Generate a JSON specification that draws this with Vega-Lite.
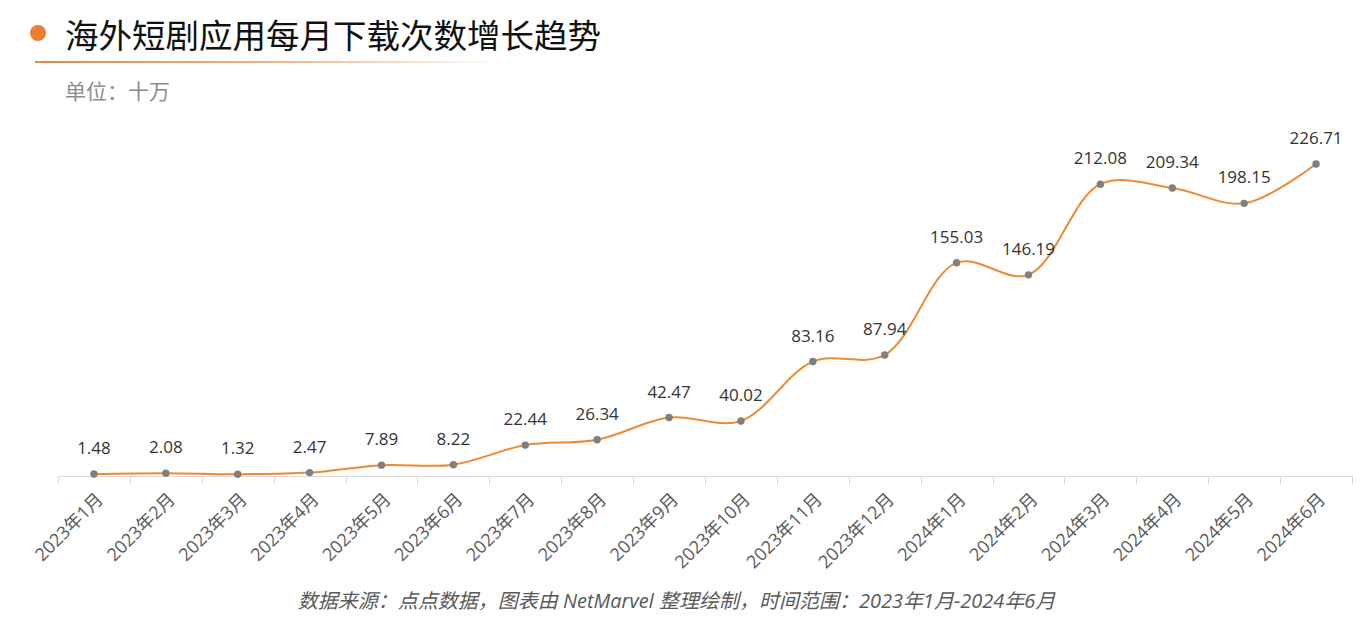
{
  "$schema": "https://vega.github.io/schema/vega-lite/v6.json",
  "autosize": "none",
  "width": 1294,
  "height": 344,
  "padding": {"left": 58, "top": 132, "right": 17, "bottom": 149},
  "background": "white",
  "config": {
    "view": {"stroke": null},
    "font": "Open Sans, Noto Sans CJK SC"
  },
  "title": {
    "text": "海外短剧应用每月下载次数增长趋势",
    "subtitle": "单位：十万",
    "anchor": "start",
    "frame": "group",
    "orient": "top",
    "dx": 7,
    "dy": 105,
    "offset": 26,
    "font": "Noto Sans CJK SC",
    "fontSize": 33.5,
    "fontWeight": "normal",
    "color": "#111111",
    "subtitleFont": "Noto Sans CJK SC",
    "subtitleFontSize": 21,
    "subtitleColor": "#8c8c8c",
    "subtitlePadding": 26
  },
  "data": {
    "values": [
      {"month": "2023年1月", "v": 1.48},
      {"month": "2023年2月", "v": 2.08},
      {"month": "2023年3月", "v": 1.32},
      {"month": "2023年4月", "v": 2.47},
      {"month": "2023年5月", "v": 7.89},
      {"month": "2023年6月", "v": 8.22},
      {"month": "2023年7月", "v": 22.44},
      {"month": "2023年8月", "v": 26.34},
      {"month": "2023年9月", "v": 42.47},
      {"month": "2023年10月", "v": 40.02},
      {"month": "2023年11月", "v": 83.16},
      {"month": "2023年12月", "v": 87.94},
      {"month": "2024年1月", "v": 155.03},
      {"month": "2024年2月", "v": 146.19},
      {"month": "2024年3月", "v": 212.08},
      {"month": "2024年4月", "v": 209.34},
      {"month": "2024年5月", "v": 198.15},
      {"month": "2024年6月", "v": 226.71}
    ]
  },
  "encoding": {
    "x": {
      "field": "month",
      "type": "nominal",
      "sort": null,
      "scale": {"paddingInner": 0, "paddingOuter": 0},
      "axis": {
        "title": "数据来源：点点数据，图表由 NetMarvel 整理绘制，时间范围：2023年1月-2024年6月",
        "titleFont": "Open Sans, Noto Sans CJK SC",
        "titleFontStyle": "italic",
        "titleFontWeight": "normal",
        "titleFontSize": 20,
        "titleColor": "#595959",
        "titleAnchor": "start",
        "titleAlign": "center",
        "titleX": 618,
        "titleY": 131,
        "titleBaseline": "alphabetic",
        "labelAngle": -45,
        "labelFontSize": 18,
        "labelColor": "#595959",
        "labelPadding": 6,
        "tickBand": "extent",
        "tickColor": "#d9d9d9",
        "tickSize": 8,
        "domainColor": "#d9d9d9",
        "grid": false
      }
    },
    "y": {
      "field": "v",
      "type": "quantitative",
      "scale": {"domain": [0, 250], "nice": false},
      "axis": null
    }
  },
  "layer": [
    {
      "mark": {"type": "line", "interpolate": "catmull-rom", "color": "#ED8B35", "strokeWidth": 2}
    },
    {
      "mark": {"type": "point", "filled": true, "size": 55, "color": "#7f7f7f", "opacity": 1}
    },
    {
      "mark": {"type": "text", "dy": -25, "fontSize": 17, "color": "#333333", "font": "Open Sans"},
      "encoding": {"text": {"field": "v", "type": "quantitative", "format": ".2f"}}
    },
    {
      "data": {"values": [{"k": "deco"}]},
      "mark": {"type": "point", "filled": true, "shape": "circle", "size": 260, "color": "#ED7D31", "opacity": 1, "clip": false},
      "encoding": {"x": {"value": -20}, "y": {"value": -99}}
    },
    {
      "data": {"values": [{"k": "deco"}]},
      "mark": {
        "type": "rect",
        "clip": false,
        "fill": {
          "gradient": "linear",
          "x1": 0, "y1": 0, "x2": 1, "y2": 0,
          "stops": [
            {"offset": 0, "color": "#E08a3a"},
            {"offset": 0.5, "color": "#E9B583"},
            {"offset": 1, "color": "#ffffff"}
          ]
        }
      },
      "encoding": {"x": {"value": -23}, "x2": {"value": 447}, "y": {"value": -71}, "y2": {"value": -69}}
    }
  ]
}
